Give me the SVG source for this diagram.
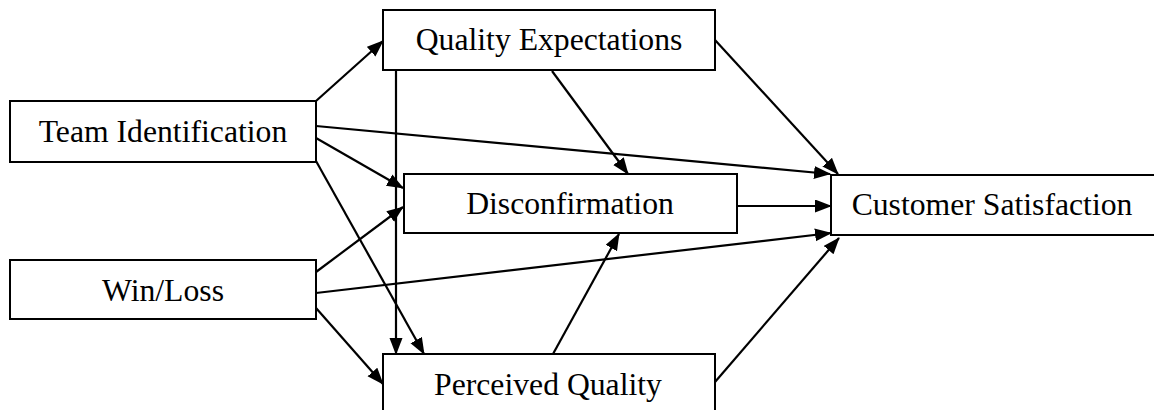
<svg xmlns="http://www.w3.org/2000/svg" width="1154" height="410" viewBox="0 0 1154 410">
  <style>
    .box { fill: #ffffff; stroke: #000000; stroke-width: 2; }
    .lbl { font-family: "Liberation Serif", "Times New Roman", serif; font-size: 31.7px; fill: #000000; text-anchor: middle; }
    .conn line { stroke: #000000; stroke-width: 2.2; fill: none; marker-end: url(#arrow); }
  </style>
  <defs>
    <marker id="arrow" markerUnits="userSpaceOnUse" markerWidth="20" markerHeight="16" refX="16" refY="6.5" orient="auto">
      <path d="M0,0 L17,6.5 L0,13 z" fill="#000000"/>
    </marker>
  </defs>
  <rect width="1154" height="410" fill="#ffffff"/>

  <g id="connectors" class="conn">
    <line x1="316" y1="101" x2="383" y2="41"/>
    <line x1="316" y1="126" x2="830" y2="174"/>
    <line x1="316" y1="138" x2="403" y2="188"/>
    <line x1="316" y1="161" x2="424" y2="354"/>
    <line x1="396" y1="70" x2="396" y2="354"/>
    <line x1="552" y1="71" x2="628" y2="174"/>
    <line x1="715" y1="40" x2="838" y2="174"/>
    <line x1="737" y1="206" x2="831" y2="206"/>
    <line x1="316" y1="272" x2="403" y2="207"/>
    <line x1="316" y1="293" x2="831" y2="233"/>
    <line x1="316" y1="308" x2="383" y2="384"/>
    <line x1="553" y1="354" x2="619" y2="234"/>
    <line x1="715" y1="382" x2="839" y2="238"/>
  </g>

  <g id="team-identification">
    <rect class="box" x="10" y="101" width="306" height="61"/>
    <text class="lbl" x="163" y="142">Team Identification</text>
  </g>
  <g id="win-loss">
    <rect class="box" x="10" y="260" width="306" height="59"/>
    <text class="lbl" x="163" y="301">Win/Loss</text>
  </g>
  <g id="quality-expectations">
    <rect class="box" x="383" y="10" width="332" height="60"/>
    <text class="lbl" x="549" y="50">Quality Expectations</text>
  </g>
  <g id="disconfirmation">
    <rect class="box" x="404" y="174" width="333" height="59"/>
    <text class="lbl" x="570" y="214">Disconfirmation</text>
  </g>
  <g id="perceived-quality">
    <rect class="box" x="383" y="354" width="332" height="70"/>
    <text class="lbl" x="548" y="395">Perceived Quality</text>
  </g>
  <g id="customer-satisfaction">
    <rect class="box" x="831" y="175" width="340" height="60"/>
    <text class="lbl" x="992" y="215">Customer Satisfaction</text>
  </g>
</svg>
